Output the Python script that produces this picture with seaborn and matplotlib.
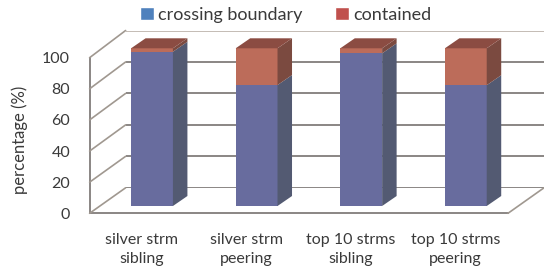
import numpy as np
import pandas as pd
import matplotlib
matplotlib.use("Agg")
import matplotlib.pyplot as plt
from matplotlib.patches import Polygon, Patch
from matplotlib.lines import Line2D
import seaborn as sns

categories = ["silver strm\nsibling", "silver strm\npeering",
              "top 10 strms\nsibling", "top 10 strms\npeering"]
crossing = [97.8, 76.7, 96.8, 76.6]
contained = [2.2, 23.3, 3.2, 23.4]
y_ticks = [0, 20, 40, 60, 80, 100]
series_names = ["crossing boundary", "contained"]

df = pd.DataFrame({"category": categories, "crossing": crossing, "contained": contained})
df["total"] = df["crossing"] + df["contained"]

sns.set_style("white")
plt.rcParams["font.family"] = ["Lato", "DejaVu Sans"]

W, H = 544, 271
fig = plt.figure(figsize=(W / 100, H / 100), dpi=100)


def box(x0, x1, y_bot, y_top):
    # pixel box (top-left origin) -> figure fraction rect
    return [x0 / W, (H - y_bot) / H, (x1 - x0) / W, (y_bot - y_top) / H]


txt = "#3a3a3a"
grid_c = "#8a8684"

# back wall (gridlines)
ax_back = fig.add_axes(box(125.6, 544, 187.8, 30.5))
ax_back.set_xlim(-0.5, 3.5)
ax_back.set_ylim(0, 100)
for v in y_ticks:
    ax_back.axhline(v, color="#c4bcb4" if v == 100 else grid_c, lw=1.4)
ax_back.axis("off")

# front plane (axis, ticks, labels)
ax_front = fig.add_axes(box(89.6, 508, 213.3, 57.7))
ax_front.set_xlim(-0.5, 3.5)
ax_front.set_ylim(0, 100)
ax_front.patch.set_alpha(0)
for s in ["top", "right"]:
    ax_front.spines[s].set_visible(False)
for s in ["left", "bottom"]:
    ax_front.spines[s].set_color(grid_c)
    ax_front.spines[s].set_linewidth(1.4)
ax_front.set_yticks(y_ticks)
ax_front.set_yticklabels([str(v) for v in y_ticks], fontsize=11.5, color=txt)
ax_front.set_xticks(range(len(categories)))
ax_front.set_xticklabels(categories, fontsize=11.5, color=txt, linespacing=1.45)
ax_front.set_xticks(np.arange(-0.5, len(categories)), minor=True)
ax_front.tick_params(axis="y", length=5, width=1.2, color=grid_c, pad=9)
ax_front.tick_params(axis="x", which="major", length=0, pad=14)
ax_front.tick_params(axis="x", which="minor", length=5, width=1.2, color=grid_c)

inv = fig.transFigure.inverted()

# left wall and floor diagonals
for v in y_ticks:
    p0 = ax_front.transData.transform((-0.5, v))
    p1 = ax_back.transData.transform((-0.5, v))
    fig.add_artist(Line2D(*zip(inv.transform(p0), inv.transform(p1)),
                          transform=fig.transFigure, color="#a09890", lw=1.2))
p0 = ax_front.transData.transform((3.5, 0))
p1 = ax_back.transData.transform((3.5, 0))
fig.add_artist(Line2D(*zip(inv.transform(p0), inv.transform(p1)),
                      transform=fig.transFigure, color="#a09890", lw=1.2))

# bars plane
ax_bars = fig.add_axes(box(99.7, 518.1, 206, 48.3))
red_front, blue_front = "#bc6c5a", "#686c9e"
red_side, blue_side = "#7b4a40", "#535a72"
red_top = "#8b4c42"
sns.barplot(data=df, x="category", y="total", color=red_front, saturation=1,
            width=0.4, ax=ax_bars, linewidth=0)
sns.barplot(data=df, x="category", y="crossing", color=blue_front, saturation=1,
            width=0.4, ax=ax_bars, linewidth=0)
ax_bars.set_xlim(-0.5, 3.5)
ax_bars.set_ylim(0, 100)
ax_bars.axis("off")

depth = np.array([14.5, 10.0])
for i, row in df.iterrows():
    x0, x1 = i - 0.2, i + 0.2
    segs = [(0, row["crossing"], blue_side), (row["crossing"], row["total"], red_side)]
    for y0, y1, c in segs:
        br = ax_bars.transData.transform((x1, y0))
        tr = ax_bars.transData.transform((x1, y1))
        pts = inv.transform([br, tr, tr + depth, br + depth])
        fig.add_artist(Polygon(pts, closed=True, transform=fig.transFigure,
                               facecolor=c, edgecolor="none"))
    tl = ax_bars.transData.transform((x0, row["total"]))
    tr = ax_bars.transData.transform((x1, row["total"]))
    pts = inv.transform([tl, tr, tr + depth, tl + depth])
    fig.add_artist(Polygon(pts, closed=True, transform=fig.transFigure,
                           facecolor=red_top, edgecolor="none"))

fig.text(20 / W, 1 - 140 / H, "percentage (%)", rotation=90, ha="center",
         va="center", fontsize=12, color=txt)

handles = [Patch(facecolor="#4f81bd"), Patch(facecolor="#c0504d")]
fig.legend(handles, series_names, loc="upper center", ncol=2,
           bbox_to_anchor=(286 / W, 1.035), frameon=False, fontsize=13,
           handlelength=0.75, handleheight=0.75, handletextpad=0.25,
           columnspacing=1.8, labelcolor=txt)

fig.savefig("out.png", dpi=100)
